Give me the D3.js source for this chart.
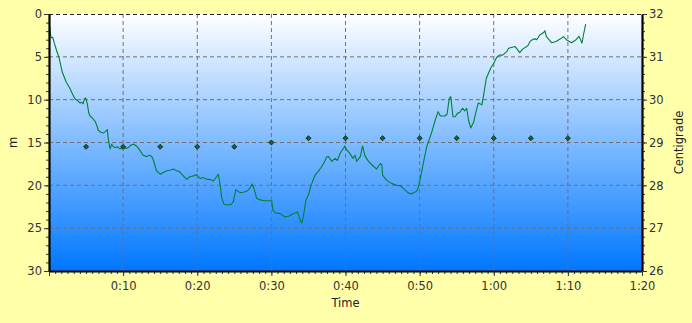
<!DOCTYPE html>
<html>
<head>
<meta charset="utf-8">
<script src="https://cdn.jsdelivr.net/npm/d3@7"></script>
<style>
	html, body { margin: 0; padding: 0; background: #ffffaa; }
	svg { display: block; }
</style>
</head>
<body>
<script>
// Dive profile: time in minutes, depth in metres
const timeMin = [
	0.05, 0.15, 0.27, 0.5, 0.72, 1.0, 1.35, 1.8, 2.3, 2.83, 3.2, 3.5, 3.96, 4.2, 4.4, 4.6, 4.77, 4.95,
	5.17, 5.35, 5.53, 5.9, 6.2, 6.45, 6.65, 7.0, 7.33, 7.64, 7.87, 8.0, 8.23, 8.45, 8.7, 8.9, 9.2, 9.58,
	10.0, 10.3, 10.7, 11.06, 11.4, 11.8, 12.3, 12.7, 13.2, 13.5, 13.85, 14.1, 14.5, 15.0, 15.4, 15.9,
	16.4, 16.8, 17.2, 17.6, 17.9, 18.35, 18.57, 19.0, 19.5, 19.9, 20.37, 20.8, 21.27, 21.7, 22.2, 22.6,
	22.84, 23.07, 23.3, 23.6, 24.2, 24.6, 24.87, 25.2, 25.5, 25.77, 26.2, 26.67, 27.1, 27.4, 27.7, 28.0,
	28.5, 29.0, 29.4, 30.05, 30.2, 30.5, 31.2, 31.8, 32.3, 33.0, 33.5, 33.9, 34.1, 34.3, 34.67, 35.0,
	35.35, 35.9, 36.3, 36.8, 37.2, 37.45, 37.7, 38.15, 38.6, 38.9, 39.26, 39.7, 39.9, 40.2, 40.6, 41.0,
	41.3, 41.5, 42.0, 42.3, 42.6, 43.1, 43.8, 44.2, 44.7, 44.9, 45.0, 45.6, 46.25, 46.9, 47.4, 47.8,
	48.5, 48.9, 49.3, 49.6, 49.8, 50.05, 50.5, 50.95, 51.6, 52.1, 52.5, 52.8, 53.4, 53.7, 54.0, 54.2,
	54.5, 54.8, 55.1, 55.4, 55.8, 56.1, 56.35, 56.6, 56.9, 57.3, 57.5, 57.9, 58.4, 58.6, 59.0, 59.6,
	60.0, 60.4, 60.75, 61.2, 61.75, 62.0, 62.9, 63.5, 63.9, 64.6, 64.9, 65.3, 65.6, 65.8, 66.2, 66.7,
	66.9, 67.1, 67.8, 68.4, 69.0, 69.4, 69.8, 70.5, 71.1, 71.5, 71.9, 72.1, 72.4
];
const depthM = [
	1.1, 1.9, 2.8, 2.7, 3.4, 4.2, 5.1, 6.8, 7.9, 8.7, 9.4, 9.9, 10.2, 10.4, 10.3, 10.5, 9.9, 9.8,
	10.5, 11.5, 11.9, 12.2, 12.5, 13.0, 13.6, 13.8, 13.9, 13.7, 13.5, 14.6, 15.75, 15.2, 15.5, 15.6, 15.5, 15.75,
	15.5, 15.7, 15.6, 15.3, 15.2, 15.4, 15.95, 16.5, 16.65, 16.5, 16.6, 17.1, 18.3, 18.7, 18.5, 18.3,
	18.2, 18.1, 18.3, 18.4, 18.7, 19.1, 19.3, 19.0, 18.9, 18.75, 19.2, 19.1, 19.3, 19.3, 19.5, 19.0,
	18.7, 19.8, 21.5, 22.2, 22.3, 22.2, 21.9, 20.5, 20.7, 20.85, 20.8, 20.7, 20.35, 19.85, 20.5, 21.5,
	21.7, 21.8, 21.8, 21.8, 22.9, 23.2, 23.3, 23.7, 23.6, 23.3, 23.1, 24.05, 24.4, 23.7, 21.7, 21.1,
	20.0, 18.8, 18.4, 17.8, 17.2, 16.7, 16.65, 17.2, 16.85, 17.1, 16.3, 15.7, 15.4, 15.9, 16.3, 16.85,
	16.5, 17.2, 16.65, 15.4, 16.5, 17.2, 17.8, 18.1, 17.45, 17.6, 18.8, 19.45, 19.8, 20.0, 20.05, 20.35,
	20.9, 21.0, 20.8, 20.7, 20.3, 19.4, 17.4, 15.5, 13.9, 12.4, 11.4, 11.9, 11.9, 11.7, 9.85, 9.65,
	12.0, 12.0, 11.6, 11.5, 11.0, 11.3, 11.0, 12.4, 13.3, 12.6, 11.8, 10.4, 10.6, 9.65, 7.5, 6.3,
	5.75, 5.05, 4.8, 4.8, 4.4, 4.0, 3.8, 4.5, 4.1, 3.7, 3.2, 2.95, 2.9, 3.0, 2.45, 2.2,
	1.95, 2.65, 3.35, 3.2, 2.9, 2.65, 3.0, 3.35, 3.0, 2.6, 3.4, 2.45, 1.17
];

// Water temperature samples
const tempTimeMin = [5, 10, 15, 20, 25, 30, 35, 40, 45, 50, 55, 60, 65, 70];
const tempC = [28.9, 28.9, 28.9, 28.9, 28.9, 29.0, 29.1, 29.1, 29.1, 29.1, 29.1, 29.1, 29.1, 29.1];

// Axis ticks
const timeTicks = [0, 10, 20, 30, 40, 50, 60, 70, 80];
const depthTicks = [0, 5, 10, 15, 20, 25, 30];
const tempTicks = [26, 27, 28, 29, 30, 31, 32];

const W = 692, H = 323;
const margin = {top: 14, right: 50, bottom: 52, left: 49};
const iw = W - margin.left - margin.right;
const ih = H - margin.top - margin.bottom;

const fmtTime = m => m === 0 ? '' : `${Math.floor(m / 60)}:${String(m % 60).padStart(2, '0')}`;

const x = d3.scaleLinear().domain([0, 80]).range([0, iw]);
const yDepth = d3.scaleLinear().domain([0, 30]).range([0, ih]);
const yTemp = d3.scaleLinear().domain([26, 32]).range([ih, 0]);

const svg = d3.select('body').append('svg')
	.attr('width', W)
	.attr('height', H)
	.style('font-family', '"DejaVu Sans", Verdana, sans-serif');

svg.append('rect')
	.attr('width', W)
	.attr('height', H)
	.attr('fill', '#ffffaa');

const grad = svg.append('defs').append('linearGradient')
	.attr('id', 'water')
	.attr('x1', 0).attr('y1', 0).attr('x2', 0).attr('y2', 1);
grad.append('stop').attr('offset', '0%').attr('stop-color', '#ffffff');
grad.append('stop').attr('offset', '100%').attr('stop-color', '#0077ff');

const g = svg.append('g')
	.attr('transform', `translate(${margin.left},${margin.top})`);

g.append('rect')
	.attr('width', iw)
	.attr('height', ih)
	.attr('fill', 'url(#water)');

// grid
g.append('g').selectAll('line')
	.data(timeTicks.filter(t => t > 0 && t < 80))
	.join('line')
	.attr('x1', d => x(d)).attr('x2', d => x(d))
	.attr('y1', 0).attr('y2', ih)
	.attr('stroke', '#707070')
	.attr('stroke-dasharray', '4,3');

g.append('g').selectAll('line')
	.data(depthTicks.filter(d => d > 0 && d < 30))
	.join('line')
	.attr('x1', 0).attr('x2', iw)
	.attr('y1', d => yDepth(d)).attr('y2', d => yDepth(d))
	.attr('stroke', '#707070')
	.attr('stroke-dasharray', '4,3');

// top border
g.append('line')
	.attr('x1', 0).attr('x2', iw)
	.attr('y1', 0.5).attr('y2', 0.5)
	.attr('stroke', '#222')
	.attr('stroke-dasharray', '4,3');

// depth line
const line = d3.line()
	.x(i => x(timeMin[i]))
	.y(i => yDepth(depthM[i]));

g.append('path')
	.datum(d3.range(timeMin.length))
	.attr('d', line)
	.attr('fill', 'none')
	.attr('stroke', '#00803a')
	.attr('stroke-width', 1.1)
	.attr('stroke-linejoin', 'round');

// temperature markers
g.append('g').selectAll('path')
	.data(d3.range(tempTimeMin.length))
	.join('path')
	.attr('transform', i => `translate(${x(tempTimeMin[i])},${yTemp(tempC[i])}) rotate(45)`)
	.attr('d', d3.symbol(d3.symbolSquare, 13))
	.attr('fill', '#1f5a3a')
	.attr('stroke', '#0a2a1a')
	.attr('stroke-width', 0.8);

// axes
function styleAxis(sel) {
	sel.select('.domain').attr('stroke', '#000').attr('stroke-width', 2.2);
	sel.selectAll('.tick line').attr('stroke', '#333');
	sel.selectAll('.tick text')
		.attr('fill', '#333')
		.style('font-size', '11.5px')
		.style('font-family', '"DejaVu Sans", Verdana, sans-serif');
}

// minor ticks
g.append('g')
	.attr('transform', `translate(0,${ih})`)
	.call(d3.axisBottom(x).tickValues(d3.range(0, 80.001, 10 / 12)).tickSize(3).tickFormat(''))
	.call(s => s.select('.domain').remove())
	.selectAll('line').attr('stroke', '#333');

g.append('g')
	.call(d3.axisLeft(yDepth).tickValues(d3.range(0, 30.001, 1)).tickSize(3).tickFormat(''))
	.call(s => s.select('.domain').remove())
	.selectAll('line').attr('stroke', '#333');

g.append('g')
	.attr('transform', `translate(${iw},0)`)
	.call(d3.axisRight(yTemp).tickValues(d3.range(26, 32.001, 0.2)).tickSize(3).tickFormat(''))
	.call(s => s.select('.domain').remove())
	.selectAll('line').attr('stroke', '#333');

g.append('g')
	.attr('transform', `translate(0,${ih})`)
	.call(d3.axisBottom(x).tickValues(timeTicks).tickFormat(fmtTime).tickSize(5).tickSizeOuter(0).tickPadding(6))
	.call(styleAxis);

g.append('g')
	.call(d3.axisLeft(yDepth).tickValues(depthTicks).tickFormat(d3.format('d')).tickSize(5).tickSizeOuter(0).tickPadding(2))
	.call(styleAxis);

g.append('g')
	.attr('transform', `translate(${iw},0)`)
	.call(d3.axisRight(yTemp).tickValues(tempTicks).tickFormat(d3.format('d')).tickSize(5).tickSizeOuter(0).tickPadding(2))
	.call(styleAxis);

// axis titles
svg.append('text')
	.attr('x', margin.left + iw / 2)
	.attr('y', 307)
	.attr('text-anchor', 'middle')
	.attr('fill', '#222')
	.style('font-size', '11.5px')
	.text('Time');

svg.append('text')
	.attr('transform', `translate(17,${margin.top + ih / 2}) rotate(-90)`)
	.attr('text-anchor', 'middle')
	.attr('fill', '#222')
	.style('font-size', '11.5px')
	.text('m');

svg.append('text')
	.attr('transform', `translate(683,${margin.top + ih / 2}) rotate(-90)`)
	.attr('text-anchor', 'middle')
	.attr('fill', '#222')
	.style('font-size', '11.5px')
	.text('Centigrade');
</script>
</body>
</html>
